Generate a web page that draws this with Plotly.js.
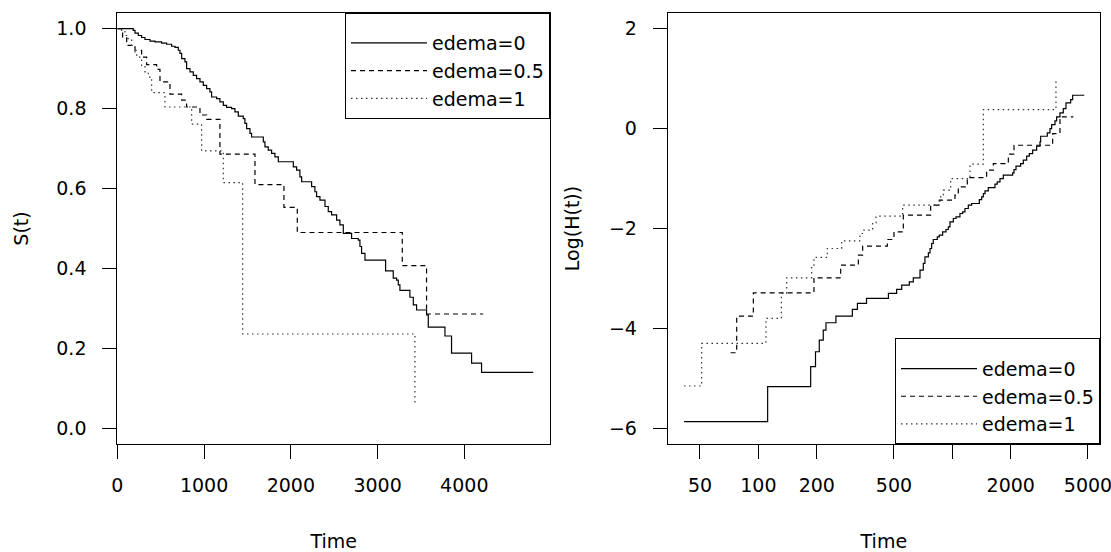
<!DOCTYPE html>
<html>
<head>
<meta charset="utf-8">
<script src="https://cdn.plot.ly/plotly-3.0.1.min.js"></script>
<style>html,body{margin:0;padding:0;background:#fff}#chart{width:1111px;height:552px}</style>
</head>
<body>
<div id="chart"></div>
<script>
// ---- Left panel: Kaplan-Meier S(t) by edema ----
const groupNames = ['edema=0', 'edema=0.5', 'edema=1'];

const km0Time = [0,184,204,242,280,319,377,434,511,569,626,665,703,722,742,780,799,838,876,914,953,991,1030,1068,1087,1145,1183,1222,1260,1318,1356,1395,1452,1471,1491,1529,1548,1683,1702,1740,1779,1817,1856,2029,2067,2105,2125,2240,2278,2297,2336,2394,2432,2470,2528,2566,2605,2701,2778,2797,2816,2855,3093,3181,3220,3239,3258,3373,3412,3450,3565,3585,3777,3853,4084,4199,4795];
const km0Surv = [1,0.996,0.989,0.983,0.978,0.973,0.969,0.967,0.964,0.961,0.956,0.953,0.946,0.938,0.925,0.917,0.900,0.892,0.883,0.875,0.867,0.858,0.850,0.842,0.829,0.825,0.817,0.808,0.803,0.800,0.792,0.781,0.775,0.763,0.750,0.738,0.729,0.717,0.704,0.696,0.688,0.679,0.667,0.654,0.646,0.629,0.617,0.605,0.592,0.580,0.571,0.555,0.542,0.534,0.521,0.509,0.488,0.475,0.471,0.455,0.438,0.421,0.394,0.376,0.371,0.359,0.345,0.328,0.309,0.296,0.284,0.253,0.231,0.188,0.163,0.140,0.140];

const km05Time = [0,61,108,204,280,338,453,492,607,742,799,953,1030,1183,1587,1921,2075,3285,3565,4218];
const km05Surv = [1,0.978,0.958,0.946,0.929,0.910,0.898,0.867,0.836,0.821,0.804,0.784,0.773,0.686,0.610,0.553,0.490,0.407,0.286,0.286];

const km1Time = [0,50,88,108,165,204,223,280,319,357,396,549,857,972,1222,1445,3431];
const km1Surv = [1,0.996,0.983,0.975,0.958,0.938,0.929,0.908,0.892,0.879,0.840,0.804,0.761,0.694,0.615,0.236,0.059];

// ---- Right panel: log cumulative hazard vs time (log scale) ----
const ch0Time = [41.4,111.6,186,197,206,216,223,251,305,324,361,468,516,548,600,629,681,708,722,752,767,782,797,836,856,891,927,953,972,1011,1044,1094,1130,1161,1208,1257,1377,1416,1444,1473,1532,1658,1704,1760,1830,2045,2078,2128,2248,2321,2415,2493,2593,2719,2829,2851,3086,3185,3249,3380,3447,3586,3730,3851,4071,4169,4787];
const ch0LogH = [-5.867,-5.167,-4.767,-4.467,-4.233,-4.033,-3.887,-3.753,-3.62,-3.5,-3.4,-3.3,-3.22,-3.133,-3.067,-2.987,-2.833,-2.7,-2.567,-2.487,-2.4,-2.3,-2.22,-2.167,-2.133,-2.067,-2.02,-1.967,-1.867,-1.8,-1.767,-1.7,-1.667,-1.6,-1.533,-1.5,-1.42,-1.367,-1.3,-1.247,-1.18,-1.113,-1.067,-1.0,-0.933,-0.887,-0.82,-0.753,-0.7,-0.633,-0.553,-0.5,-0.433,-0.353,-0.267,-0.153,-0.087,0,0.08,0.153,0.233,0.313,0.4,0.513,0.58,0.667,0.667];

const ch05Time = [71.9,77.3,94.2,193.4,265.6,327.5,344.8,462,500,558.6,772.7,856,1031,1073,1194,1502,1626,1943,2078,3288,3586,4202];
const ch05LogH = [-4.487,-3.753,-3.287,-2.987,-2.733,-2.533,-2.353,-2.22,-2.067,-1.733,-1.533,-1.433,-1.333,-1.167,-0.98,-0.833,-0.7,-0.513,-0.333,-0.1,0.233,0.233];

const ch1Time = [41.4,51.0,109.4,131.3,139.9,188.2,193.4,226.7,268.7,334,350,388,404,554,863,898,980,1233,1444,3420];
const ch1LogH = [-5.153,-4.3,-3.8,-3.3,-2.987,-2.767,-2.58,-2.4,-2.247,-2.1,-2.033,-1.887,-1.753,-1.533,-1.367,-1.233,-1.0,-0.713,0.38,1.0];

const leftXTicks = [0,1000,2000,3000,4000];
const leftYTicks = [0,0.2,0.4,0.6,0.8,1.0];
const rightXTicks = [50,100,200,500,1000,2000,5000];
const rightXTickText = ['50','100','200','500','','2000','5000'];
const rightYTicks = [-6,-4,-2,0,2];

const FONT = 'DejaVu Sans, Liberation Sans, Arial, sans-serif';
const styles = [
  {color:'#000', width:1.2, dash:'solid'},
  {color:'#000', width:1.2, dash:'5px,4px'},
  {color:'#333', width:1.2, dash:'1.5px,3.5px'}
];

function tr(x, y, i, xa, ya, leg) {
  return {x:x, y:y, type:'scatter', mode:'lines', name:groupNames[i],
    line:Object.assign({shape:'hv'}, styles[i]), xaxis:xa, yaxis:ya,
    legend:leg, hoverinfo:'x+y'};
}

const data = [
  tr(km0Time, km0Surv, 0, 'x', 'y', 'legend'),
  tr(km05Time, km05Surv, 1, 'x', 'y', 'legend'),
  tr(km1Time, km1Surv, 2, 'x', 'y', 'legend'),
  tr(ch0Time, ch0LogH, 0, 'x2', 'y2', 'legend2'),
  tr(ch05Time, ch05LogH, 1, 'x2', 'y2', 'legend2'),
  tr(ch1Time, ch1LogH, 2, 'x2', 'y2', 'legend2')
];

const axBase = {
  showline:true, linecolor:'#000', linewidth:1, mirror:true,
  ticks:'outside', ticklen:14, tickwidth:1, tickcolor:'#000',
  showgrid:false, zeroline:false,
  tickfont:{family:FONT, size:19, color:'#000'}
};
function ax(extra){ return Object.assign({}, axBase, extra); }

const yDom = [0.19511, 0.97699];
const legBase = {
  bgcolor:'#fff', bordercolor:'#000', borderwidth:1,
  font:{family:FONT, size:19, color:'#000'}, itemwidth:76,
  title:{text:' ', font:{family:FONT, size:8}}
};

const layout = {
  width:1111, height:552,
  margin:{l:0, r:0, t:0, b:0},
  paper_bgcolor:'#fff', plot_bgcolor:'#fff',
  showlegend:true,
  xaxis: ax({domain:[0.10558,0.49505], range:[0,4988], tickvals:leftXTicks,
    ticklabelstandoff:10,
    title:{text:'Time', font:{family:FONT, size:19, color:'#000'}, standoff:39}}),
  yaxis: ax({domain:yDom, range:[-0.04,1.04], tickvals:leftYTicks, tickformat:'.1f',
    ticklabelstandoff:12,
    title:{text:'S(t)', font:{family:FONT, size:19, color:'#000'}, standoff:22}}),
  xaxis2: ax({domain:[0.60099,0.9901], type:'log', range:[1.5325,3.761], anchor:'y2',
    tickvals:rightXTicks, ticktext:rightXTickText, ticklabelstandoff:10,
    ticklabeloverflow:'allow',
    title:{text:'Time', font:{family:FONT, size:19, color:'#000'}, standoff:39}}),
  yaxis2: ax({domain:yDom, range:[-6.32,2.32], anchor:'x2', tickvals:rightYTicks,
    ticklabelstandoff:12,
    title:{text:'Log(H(t))', font:{family:FONT, size:19, color:'#000'}, standoff:24}}),
  legend: Object.assign({x:0.49505, xanchor:'right', y:0.97699, yanchor:'top'}, legBase),
  legend2: Object.assign({x:0.9901, xanchor:'right', y:0.19511, yanchor:'bottom'}, legBase)
};

Plotly.newPlot('chart', data, layout, {displayModeBar:false, staticPlot:true});
</script>
</body>
</html>
